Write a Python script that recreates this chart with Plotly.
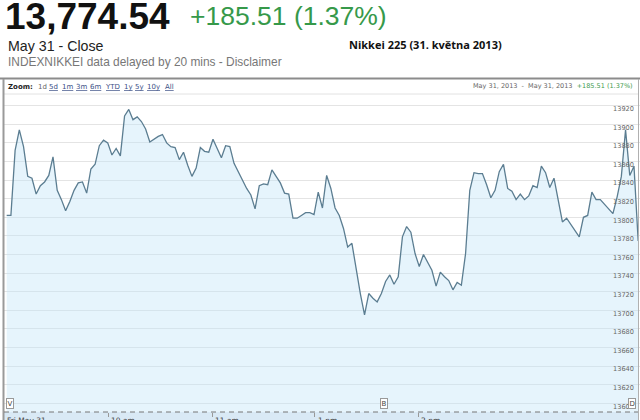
import plotly.graph_objects as go

# ---- data ----
values = [13802, 13802, 13872, 13894, 13876, 13844, 13842, 13825, 13834, 13838,
          13845, 13865, 13829, 13819, 13807, 13817, 13829, 13837, 13838, 13826,
          13852, 13857, 13877, 13883, 13880, 13867, 13874, 13866, 13909, 13916,
          13905, 13908, 13903, 13895, 13881, 13884, 13887, 13889, 13880, 13876,
          13875, 13862, 13870, 13856, 13844, 13853, 13875, 13871, 13870, 13884,
          13874, 13864, 13877, 13876, 13858, 13849, 13840, 13831, 13824, 13809,
          13834, 13836, 13835, 13851, 13844, 13837, 13826, 13825, 13799, 13799,
          13802, 13805, 13805, 13803, 13827, 13810, 13845, 13831, 13810, 13802,
          13788, 13768, 13772, 13743, 13718, 13695, 13718, 13713, 13709, 13718,
          13731, 13738, 13728, 13736, 13779, 13790, 13784, 13761, 13747, 13760,
          13752, 13743, 13726, 13741, 13736, 13732, 13722, 13730, 13727, 13761,
          13829, 13848, 13847, 13847, 13835, 13821, 13829, 13849, 13857, 13831,
          13828, 13819, 13825, 13819, 13823, 13834, 13832, 13855, 13848, 13832,
          13842, 13819, 13795, 13799, 13792, 13785, 13779, 13800, 13802, 13827,
          13819, 13819, 13814, 13810, 13804, 13822, 13844, 13894, 13845, 13855,
          13774.54]
steps = list(range(len(values)))

time_labels = ["Fri May 31", "10 am", "11 am", "1 pm", "2 pm"]
time_pos = [-0.6, 24.1, 48.8, 73.2, 97.7]

zoom_links = ["1d", "5d", "1m", "3m", "6m", "YTD", "1y", "5y", "10y", "All"]
zoom_link_px = [36, 47, 60, 74, 88, 103, 122, 133, 145, 163]

event_flags = ["V", "B", "D"]
event_pos = [0.8, 89.6, 148.6]

price_text = "13,774.54"
change_text = "+185.51 (1.37%)"

# ---- layout geometry ----
W_FIG, H_FIG = 640, 420
L, R, T, B = 4, 0, 94, 8
PW = W_FIG - L - R
PH = H_FIG - T - B


def PX(x):
    return (x - L) / PW


def PY(y):
    return (H_FIG - B - y) / PH


fig = go.Figure()
fig.add_trace(go.Scatter(
    x=steps, y=values, mode="lines",
    line=dict(color="#5b7d91", width=1.3),
    fill="tozeroy", fillcolor="rgba(196,228,248,0.42)",
    hoverinfo="skip", showlegend=False,
))

ann = []
ann.append(dict(text="<b>" + price_text + "</b>", x=PX(3), y=PY(16.5), xanchor="left", yanchor="middle",
                font=dict(family="Liberation Sans, Arial", size=37, color="#111111")))
ann.append(dict(text=change_text, x=PX(188), y=PY(15.5), xanchor="left", yanchor="middle",
                font=dict(family="Liberation Sans, Arial", size=26.5, color="#36994a")))
ann.append(dict(text="May 31 - Close", x=PX(6), y=PY(46), xanchor="left", yanchor="middle",
                font=dict(family="Liberation Sans, Arial", size=14.2, color="#222222")))
ann.append(dict(text="INDEXNIKKEI data delayed by 20 mins - Disclaimer", x=PX(6), y=PY(62), xanchor="left",
                yanchor="middle", font=dict(family="Liberation Sans, Arial", size=11.9, color="#777777")))
ann.append(dict(text="<b>Nikkei 225 (31. května 2013)</b>", x=PX(347), y=PY(45), xanchor="left",
                yanchor="middle", font=dict(family="Open Sans", size=11, color="#111111")))
# toolbar
ann.append(dict(text="<b>Zoom:</b>", x=PX(6), y=PY(87), xanchor="left", yanchor="middle",
                font=dict(family="DejaVu Sans", size=7, color="#222222")))
for lab, xp in zip(zoom_links, zoom_link_px):
    txt = lab if lab == "1d" else "<u>" + lab + "</u>"
    col = "#666666" if lab == "1d" else "#3b4f86"
    ann.append(dict(text=txt, x=PX(xp), y=PY(87), xanchor="left", yanchor="middle",
                    font=dict(family="DejaVu Sans", size=7, color=col)))
ann.append(dict(text="May 31, 2013  -  May 31, 2013  <span style='color:#3d9a4d'>+185.51 (1.37%)</span>",
                x=PX(635), y=PY(86), xanchor="right", yanchor="middle",
                font=dict(family="DejaVu Sans", size=6.5, color="#666666")))
# time labels (cut by bottom edge)
for lab, xp in zip(time_labels, time_pos):
    ann.append(dict(text=lab, x=xp, xref="x", y=PY(414), yanchor="top", xanchor="left", xshift=1,
                    font=dict(family="DejaVu Sans", size=7.5, color="#444444"), showarrow=False))
# event flags
for lab, xp in zip(event_flags, event_pos):
    ann.append(dict(text=lab, x=xp, xref="x", y=PY(409), yanchor="bottom", xanchor="center",
                    font=dict(family="DejaVu Sans", size=7, color="#444444"),
                    bgcolor="#ffffff", bordercolor="#999999", borderwidth=1, borderpad=0.5, showarrow=False))

for a in ann:
    a.setdefault("xref", "paper")
    a.setdefault("yref", "paper")
    a.setdefault("showarrow", False)

shapes = [
    # header separator / box top
    dict(type="line", xref="paper", yref="paper", x0=PX(0), x1=PX(640), y0=PY(78.5), y1=PY(78.5),
         line=dict(color="#8c8c8c", width=2)),
    # toolbar bottom line
    dict(type="line", xref="paper", yref="paper", x0=PX(4), x1=PX(638), y0=PY(94), y1=PY(94),
         line=dict(color="#e2e2e2", width=1)),
    # box left / right borders
    dict(type="line", xref="paper", yref="paper", x0=PX(3.5), x1=PX(3.5), y0=PY(79), y1=PY(420),
         line=dict(color="#9a9a9a", width=2)),
    dict(type="line", xref="paper", yref="paper", x0=PX(638.5), x1=PX(638.5), y0=PY(79), y1=PY(420),
         line=dict(color="#b0b0b0", width=1)),
    # bottom time band
    dict(type="rect", xref="paper", yref="paper", x0=PX(4), x1=PX(638), y0=PY(412), y1=PY(421),
         fillcolor="#d9e9f5", line=dict(width=0), layer="below"),
    # dashed baseline
    dict(type="line", xref="paper", yref="paper", x0=PX(4), x1=PX(638), y0=PY(412), y1=PY(412),
         line=dict(color="#777777", width=1, dash="5px,4px")),
]

fig.update_layout(
    width=W_FIG, height=H_FIG,
    margin=dict(l=L, r=R, t=T, b=B, pad=0),
    paper_bgcolor="#ffffff", plot_bgcolor="#ffffff",
    showlegend=False,
    annotations=ann, shapes=shapes,
    xaxis=dict(range=[-0.64, 150.43], showgrid=False, zeroline=False, showline=False,
               ticks="outside", ticklen=4, tickcolor="#999999", tickvals=time_pos[1:],
               showticklabels=False, fixedrange=True),
    yaxis=dict(range=[13590.6, 13932.6], dtick=20, tick0=13600, side="right",
               ticklabelposition="inside", ticklabelshift=3, ticklabelstandoff=3,
               showgrid=True, gridcolor="#e4e4e4", gridwidth=1, zeroline=False, showline=False,
               ticks="", tickformat="d",
               tickfont=dict(family="DejaVu Sans", size=6.6, color="#666666"), fixedrange=True),
)

fig.write_html("out.html", config={"displayModeBar": False},
               post_script="document.body.style.margin='0';document.body.style.overflow='hidden';")
